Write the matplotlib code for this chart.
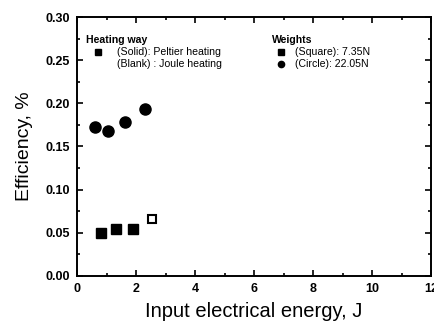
import matplotlib
matplotlib.use("Agg")
import matplotlib.pyplot as plt
from matplotlib.ticker import MultipleLocator

plt.rcParams['font.family'] = ['Liberation Sans', 'DejaVu Sans']

# Data
circle_x = [0.61, 1.05, 1.63, 2.31]          # 22.05 N, Peltier heating (solid)
circle_y = [0.1726, 0.168, 0.178, 0.193]
square_x = [0.80, 1.32, 1.90]                # 7.35 N, Peltier heating (solid)
square_y = [0.0498, 0.0544, 0.0544]
blank_square_x = [2.55]                      # 7.35 N, Joule heating (blank)
blank_square_y = [0.066]

x_ticks = [0, 2, 4, 6, 8, 10, 12]
y_ticks = [0.00, 0.05, 0.10, 0.15, 0.20, 0.25, 0.30]

fig = plt.figure(figsize=(4.35, 3.27), dpi=100)
ax = fig.add_axes([0.177, 0.156, 0.814, 0.792])

ax.plot(circle_x, circle_y, 'o', color='black', markersize=8, linestyle='none')
ax.plot(square_x, square_y, 's', color='black', markersize=6.5, linestyle='none')
ax.plot(blank_square_x, blank_square_y, 's', markerfacecolor='none',
        markeredgecolor='black', markeredgewidth=1.5, markersize=6, linestyle='none')

ax.set_xlim(0, 12)
ax.set_ylim(0, 0.30)
ax.set_xticks(x_ticks)
ax.set_yticks(y_ticks)
ax.set_xticklabels([str(v) for v in x_ticks], fontsize=9, fontweight='bold')
ax.set_yticklabels([f"{v:.2f}" for v in y_ticks], fontsize=9, fontweight='bold')
ax.xaxis.set_minor_locator(MultipleLocator(1))
ax.yaxis.set_minor_locator(MultipleLocator(0.025))
ax.tick_params(which='both', direction='in', top=True, right=True, width=1.2)
ax.tick_params(which='major', length=4, pad=5)
ax.tick_params(which='minor', length=2.5)
for s in ax.spines.values():
    s.set_linewidth(1.4)

ax.set_xlabel('Input electrical energy, J', fontsize=14.5, labelpad=5)
ax.set_ylabel('Efficiency, %', fontsize=14, labelpad=9)

# Legend texts
fs = 7.6
y_head, y_r1, y_r2 = 0.913, 0.864, 0.820
ax.text(0.025, y_head, 'Heating way', transform=ax.transAxes, fontsize=fs,
        fontweight='bold', va='center')
ax.plot([0.06], [y_r1], 's', color='black', markersize=4, transform=ax.transAxes)
ax.text(0.113, y_r1, '(Solid): Peltier heating', transform=ax.transAxes,
        fontsize=fs, va='center')
ax.text(0.113, y_r2, '(Blank) : Joule heating', transform=ax.transAxes,
        fontsize=fs, va='center')
ax.text(0.552, y_head, 'Weights', transform=ax.transAxes, fontsize=fs,
        fontweight='bold', va='center')
ax.plot([0.576], [y_r1], 's', color='black', markersize=4, transform=ax.transAxes)
ax.plot([0.576], [y_r2], 'o', color='black', markersize=4.5, transform=ax.transAxes)
ax.text(0.616, y_r1, '(Square): 7.35N', transform=ax.transAxes, fontsize=fs,
        va='center')
ax.text(0.616, y_r2, '(Circle): 22.05N', transform=ax.transAxes, fontsize=fs,
        va='center')

fig.savefig('out.png', dpi=100)
